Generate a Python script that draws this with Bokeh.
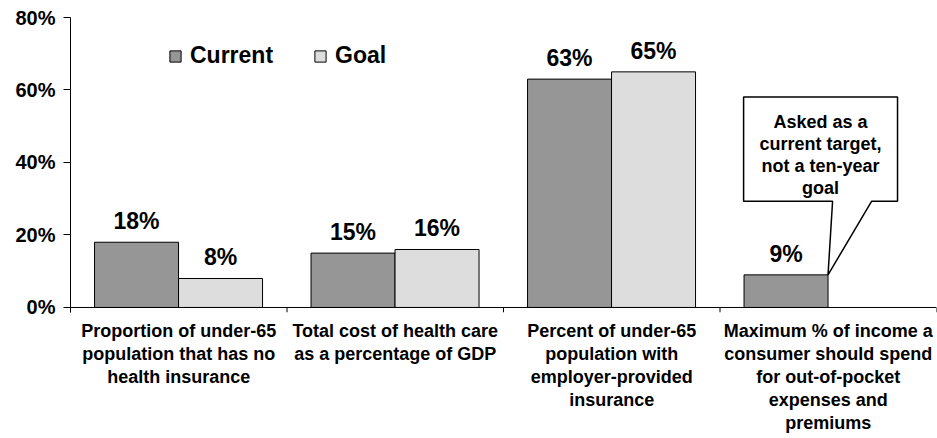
from bokeh.plotting import figure
from bokeh.models import (Range1d, FixedTicker, PrintfTickFormatter, ColumnDataSource,
                          LabelSet, Label, Legend, LegendItem, Span)
from bokeh.core.properties import value
from bokeh.embed import file_html
from bokeh.resources import INLINE

# ---- data ----
categories = [
    "Proportion of under-65\npopulation that has no\nhealth insurance",
    "Total cost of health care\nas a percentage of GDP",
    "Percent of under-65\npopulation with\nemployer-provided\ninsurance",
    "Maximum % of income a\nconsumer should spend\nfor out-of-pocket\nexpenses and\npremiums",
]
current = [18, 15, 63, 9]
goal = [8, 16, 65, None]
series_names = ["Current", "Goal"]
y_ticks = [0, 20, 40, 60, 80]
callout_lines = ["Asked as a", "current target,", "not a ten-year", "goal"]

FONT = "Liberation Sans"
BAR_W = 0.388
OFF_CUR = 0.305
OFF_GOAL = 0.693
TICK_DEPTH = 1.384   # ~5px below the zero line, in value units

p = figure(width=937, height=438, x_range=Range1d(0, 4), y_range=Range1d(-TICK_DEPTH, 80),
           output_backend="svg", toolbar_location=None,
           min_border_left=70, min_border_right=1, min_border_top=17, min_border_bottom=126)
p.outline_line_color = None
p.xgrid.visible = False
p.ygrid.visible = False
p.background_fill_color = "white"

idx = list(range(len(categories)))
cur_src = ColumnDataSource(dict(x=[i + OFF_CUR for i in idx], top=current))
goal_top = [float("nan") if v is None else v for v in goal]
goal_src = ColumnDataSource(dict(x=[i + OFF_GOAL for i in idx], top=goal_top))

r_cur = p.vbar(x="x", top="top", bottom=0, width=BAR_W, source=cur_src,
               fill_color="#969696", line_color="black", line_width=1)
r_goal = p.vbar(x="x", top="top", bottom=0, width=BAR_W, source=goal_src,
                fill_color="#dddddd", line_color="black", line_width=1)

# category axis line at zero with boundary ticks
p.add_layout(Span(location=0, dimension="width", line_color="black", line_width=1))
bounds = list(range(len(categories) + 1))
p.segment(x0=bounds, y0=[0] * len(bounds), x1=bounds, y1=[-TICK_DEPTH] * len(bounds),
          line_color="black", line_width=1)

# data labels
lab_x, lab_y, lab_t = [], [], []
for i in idx:
    lab_x.append(i + OFF_CUR); lab_y.append(current[i]); lab_t.append(f"{current[i]}%")
    if goal[i] is not None:
        lab_x.append(i + OFF_GOAL); lab_y.append(goal[i]); lab_t.append(f"{goal[i]}%")
lab_src = ColumnDataSource(dict(x=lab_x, y=lab_y, t=lab_t))
p.add_layout(LabelSet(x="x", y="y", text="t", source=lab_src, y_offset=13,
                      text_align="center", text_baseline="alphabetic",
                      text_font=value(FONT), text_font_size="23px", text_font_style="bold",
                      text_color="black"))

# legend
legend = Legend(items=[LegendItem(label=series_names[0], renderers=[r_cur]),
                       LegendItem(label=series_names[1], renderers=[r_goal])],
                orientation="horizontal", location=(98, 243),
                glyph_width=14, glyph_height=14, label_standoff=8, spacing=40,
                padding=0, margin=0, border_line_color=None, background_fill_alpha=0,
                label_text_font=FONT, label_text_font_size="23px",
                label_text_font_style="bold", label_text_color="black")
p.add_layout(legend)

# y axis
p.yaxis.ticker = FixedTicker(ticks=y_ticks)
p.yaxis.formatter = PrintfTickFormatter(format="%d%%")
p.yaxis.major_label_text_font = FONT
p.yaxis.major_label_text_font_size = "20px"
p.yaxis.major_label_text_font_style = "bold"
p.yaxis.major_label_text_color = "black"
p.yaxis.major_label_standoff = 8
p.yaxis.axis_line_color = "black"
p.yaxis.major_tick_line_color = "black"
p.yaxis.major_tick_out = 7
p.yaxis.major_tick_in = 0
p.yaxis.minor_tick_line_color = None

# x axis: category labels at category centres
centres = [i + 0.5 for i in idx]
p.xaxis.ticker = FixedTicker(ticks=centres)
p.xaxis.major_label_overrides = {c: cat for c, cat in zip(centres, categories)}
p.xaxis.axis_line_color = None
p.xaxis.major_tick_line_color = None
p.xaxis.minor_tick_line_color = None
p.xaxis.major_tick_out = 0
p.xaxis.major_tick_in = 0
p.xaxis.major_label_standoff = 8
p.xaxis.major_label_text_font = FONT
p.xaxis.major_label_text_font_size = "18px"
p.xaxis.major_label_text_font_style = "bold"
p.xaxis.major_label_text_color = "black"
p.xaxis.major_label_text_line_height = 1.16

# callout
tip_x = 3 + OFF_CUR + BAR_W / 2
tip_y = current[3]
bx0, bx1 = 3.109, 3.820
by0, by1 = 29.3, 58.1
nx0, nx1 = 3.520, 3.700
p.patch(x=[bx0, bx1, bx1, nx1, tip_x, nx0, bx0],
        y=[by1, by1, by0, by0, tip_y, by0, by0],
        fill_color="white", line_color="black", line_width=1.5)
for k, line in enumerate(callout_lines):
    p.add_layout(Label(x=3.464, y=by1, y_offset=-(25 + k * 22), text=line,
                       text_align="center", text_baseline="alphabetic",
                       text_font=FONT, text_font_size="18px", text_font_style="bold",
                       text_color="black"))

open("out.html", "w").write(file_html(p, INLINE))
